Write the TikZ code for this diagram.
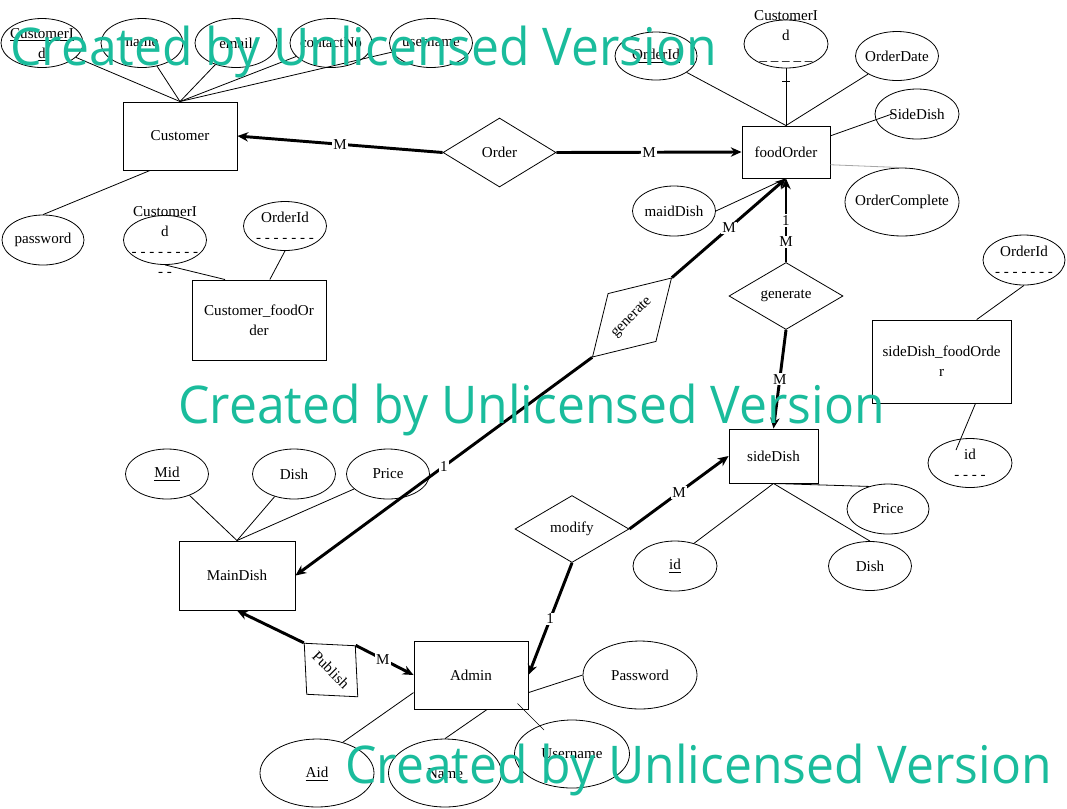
\documentclass[tikz,border=0pt]{standalone}
\usepackage{fontspec}
\setmainfont{Liberation Serif}
\newfontfamily\wmfont{Open Sans}
\usetikzlibrary{shapes.geometric,arrows.meta}
\definecolor{wmcol}{RGB}{26,188,156}
\begin{document}
\begin{tikzpicture}[x=0.75pt,y=-0.75pt,
  every node/.style={font=\fontsize{11.3pt}{15pt}\selectfont},
  ent/.style 2 args={draw, rectangle, line width=0.7pt, inner sep=0pt, minimum width=#1*0.75pt, minimum height=#2*0.75pt, align=center},
  att/.style 2 args={draw, ellipse, line width=0.6pt, inner sep=0pt, minimum width=#1*0.75pt, minimum height=#2*0.75pt},
  rel/.style 2 args={draw, diamond, aspect=1.7, line width=0.6pt, inner sep=0pt, minimum width=#1*0.75pt, minimum height=#2*0.75pt},
  txt/.style={inner sep=0pt, align=center},
  link/.style={line width=0.6pt},
  rl/.style={line width=2.2pt, -{Stealth[length=8pt,width=7pt,inset=2.5pt]}},
  card/.style={fill=white, inner sep=1pt},
  wmark/.style={text=wmcol, inner sep=0pt, anchor=base west}
]
\useasboundingbox (0,0) rectangle (1067,808);

% ---------- entities ----------
\node[ent={114}{68}] (cust) at (180,136) {Customer};
\node[ent={134}{80}] (cfo) at (259,320) {Customer\_foodOr\\der};
\node[ent={88}{52}] (fo) at (786,152) {foodOrder};
\node[ent={89}{54}] (sd) at (773.5,456) {sideDish};
\node[ent={139}{83}] (sfo) at (941.5,361.5) {sideDish\_foodOrde\\r};
\node[ent={116}{69}] (mds) at (237,575.5) {MainDish};
\node[ent={114}{68}] (ad) at (471,675) {Admin};

% ---------- relationships ----------
\node[rel={113}{69}] (ord) at (499.5,152.5) {Order};
\node[rel={114}{67}] (gen1) at (786,296) {generate};
\node[rel={112}{68}, rotate=45] (gen2) at (632,317.5) {generate};
\node[rel={114}{67}] (mod) at (572,529) {modify};
\node[rel={76}{69}, rotate=-45] (pub) at (331,670) {Publish};

% ---------- attributes: Customer ----------
\node[att={82}{49}] (cid1) at (42,43) {};
\node[txt] at (42,45) {\underline{CustomerI}\\\underline{d}};
\node[att={82}{49}] (nm) at (142,43) {};
\node[txt] at (nm) {name};
\node[att={82}{49}] (em) at (236,43) {};
\node[txt] at (em) {email};
\node[att={82}{49}] (cno) at (331,43) {};
\node[txt] at (cno) {contactNo};
\node[att={83}{49}] (usn) at (431,43) {};
\node[txt] at (usn) {username};
\node[att={82}{50}] (pw) at (43,240) {};
\node[txt] at (pw) {password};

% ---------- attributes: Customer_foodOrder ----------
\node[att={83}{49}] (cid2) at (165,240) {};
\node[txt] at (165,241.5) {CustomerI\\d\\- - - - - - - -\\- -};
\node[att={83}{49}] (oid1) at (285,226) {};
\node[txt] at (285,227.5) {OrderId\\- - - - - - -};

% ---------- attributes: foodOrder ----------
\node[att={82}{48}] (oid2) at (656,56) {};
\node[txt] at (oid2) {\underline{OrderId}};
\node[att={84}{48}] (cid3) at (786,44) {};
\node[txt] at (786,36) {CustomerI\\d\\\_ \_ \_ \_ \_};
\node[att={83}{49}] (od) at (897,56) {};
\node[txt] at (od) {OrderDate};
\node[att={84}{50}] (sdh) at (917,114) {};
\node[txt] at (sdh) {SideDish};
\node[att={114}{68}] (oc) at (902,202) {};
\node[txt] at (oc) {OrderComplete};
\node[att={83}{50}] (mdh) at (674,211) {};
\node[txt] at (mdh) {maidDish};

% ---------- attributes: sideDish_foodOrder ----------
\node[att={82}{50}] (oid3) at (1024,260) {};
\node[txt] at (1024,261.5) {OrderId\\- - - - - - -};
\node[att={84}{49}] (id3) at (970,463) {};
\node[txt] at (970,464.5) {id\\- - - -};

% ---------- attributes: MainDish ----------
\node[att={83}{50}] (mid) at (167,474) {};
\node[txt] at (mid) {\underline{Mid}};
\node[att={83}{50}] (dish) at (294,474) {};
\node[txt] at (dish) {Dish};
\node[att={83}{50}] (price) at (388,474) {};
\node[txt] at (price) {Price};

% ---------- attributes: sideDish ----------
\node[att={82}{50}] (pr2) at (888,509) {};
\node[txt] at (pr2) {Price};
\node[att={83}{49}] (ds2) at (870,566) {};
\node[txt] at (ds2) {Dish};
\node[att={84}{50}] (id2) at (675,566) {};
\node[txt] at (id2) {\underline{id}};

% ---------- attributes: Admin ----------
\node[att={114}{68}] (pass) at (640,675) {};
\node[txt] at (pass) {Password};
\node[att={114}{68}] (aid) at (317,773) {};
\node[txt] at (317,774) {\underline{Aid}};
\node[att={113}{68}] (nm2) at (445,773) {};
\node[txt] at (445,774) {Name};
\node[att={115}{68}] (usr) at (572,754) {};
\node[txt] at (usr) {Username};

% ---------- thin attribute links ----------
\draw[link] (cust.north) -- (cid1);
\draw[link] (cust.north) -- (nm);
\draw[link] (cust.north) -- (em);
\draw[link] (cust.north) -- (cno);
\draw[link] (cust.north) -- (usn);
\draw[link] (cust.229) -- (pw.north);
\draw[link] (cid2.south) -- (cfo.130);
\draw[link] (oid1.south) -- (cfo.75);

\draw[link] (fo.north) -- (oid2);
\draw[link] (fo.north) -- (cid3.south);
\draw[link] ([shift={(-4,13)}]cid3.south) -- ++(8,0);
\draw[link] (fo.north) -- (od);
\draw[link] (fo.20) -- ([xshift=13pt]sdh.west);
\draw[link, gray!70] (fo.-16) -- (oc.north);
\draw[link] (mdh.east) -- (fo.south);

\draw[link] (oid3.south) -- (sfo.50);
\draw[link] (sfo.-51) -- ([shift={(-14,-13)}]id3.center);

\draw[link] (mds.north) -- (mid);
\draw[link] (mds.north) -- (dish);
\draw[link] (mds.north) -- (price);

\draw[link] (sd.south) -- (pr2.130);
\draw[link] (sd.south) -- (ds2.north);
\draw[link] (sd.south) -- (id2.50);

\draw[link] (ad.-17) -- (pass.west);
\draw[link] (ad.197) -- (aid.50);
\draw[link] (ad.-65) -- (nm2.north);
\draw[line width=0.4pt] ([shift={(-11,-6)}]ad.south east) -- ([shift={(-28,-24)}]usr.center);

% ---------- relationship links ----------
\draw[rl] (ord.west) -- node[card]{M} (cust.east);
\draw[rl] (ord.east) -- node[card]{M} (fo.west);
\draw[rl] (gen1.north) -- node[card,pos=0.5]{1} node[card,pos=0.24]{M} (fo.south);
\draw[rl] (gen1.south) -- node[card]{M} (sd.north);
\draw[rl] (gen2.east) -- node[card]{M} (fo.south);
\draw[rl] (gen2.west) -- node[card]{1} (mds.east);
\draw[rl] (pub.west) -- (mds.south);
\draw[rl] (pub.north) -- node[card,pos=0.47]{M} (ad.west);
\draw[rl] (mod.south) -- node[card]{1} (ad.east);
\draw[rl] (mod.east) -- node[card]{M} (sd.west);

% ---------- watermarks ----------
\node[wmark] (wm1) at (10,65) {\resizebox{530pt}{\height}{\wmfont\fontsize{39pt}{40pt}\selectfont Created by Unlicensed Version}};
\node[wmark] (wm2) at (178,423) {\resizebox{530pt}{\height}{\wmfont\fontsize{39pt}{40pt}\selectfont Created by Unlicensed Version}};
\node[wmark] (wm3) at (345,783) {\resizebox{530pt}{\height}{\wmfont\fontsize{39pt}{40pt}\selectfont Created by Unlicensed Version}};
\end{tikzpicture}
\end{document}
